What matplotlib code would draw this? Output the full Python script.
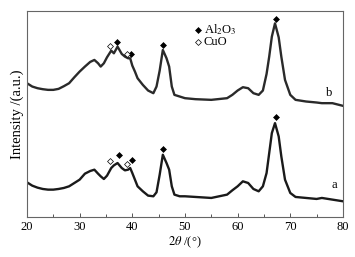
import numpy as np
import matplotlib.pyplot as plt

plt.rcParams['font.family'] = ['Liberation Serif', 'DejaVu Serif']
plt.rcParams['mathtext.fontset'] = 'stix'

# 2theta positions (deg) and intensities (arbitrary units)
two_theta = [20, 21, 22, 23, 24, 25, 26, 27, 28, 29, 30, 31, 32, 32.8, 33.5, 34, 34.6, 35.2,
             36, 36.5, 37.2, 38, 38.6, 39.2, 39.6, 40, 40.5, 41, 42, 43, 44, 44.6, 45.2, 45.8,
             46.5, 47, 47.5, 48, 49, 50, 52, 55, 58, 59, 60, 61, 62, 63, 64, 64.8, 65.5, 66,
             66.5, 67.1, 67.8, 68.3, 69, 70, 71, 73, 75, 76, 78, 80]
sample_b = [402, 392, 387, 384, 382, 382, 385, 393, 402, 420, 437, 452, 466, 472, 462, 452, 462, 480,
            500, 492, 512, 490, 482, 477, 477, 455, 437, 417, 397, 380, 372, 392, 440, 502,
            477, 452, 392, 367, 362, 357, 354, 352, 357, 367, 380, 390, 387, 372, 367, 380, 430, 482,
            542, 582, 540, 482, 412, 367, 352, 347, 344, 342, 342, 334]
sample_a = [104, 94, 88, 84, 82, 82, 84, 87, 92, 102, 112, 130, 138, 142, 130, 122, 114, 124,
            147, 155, 162, 147, 140, 142, 147, 132, 112, 92, 77, 64, 62, 74, 127, 187,
            162, 142, 92, 67, 62, 62, 60, 57, 67, 80, 92, 107, 102, 84, 77, 92, 132, 192,
            252, 282, 242, 182, 112, 72, 60, 57, 54, 57, 52, 47]

# phase markers: (2theta, height)
al2o3_b = [(37.1, 527), (39.8, 491), (45.8, 516), (67.2, 594)]
cuo_b = [(35.8, 515), (39.0, 490)]
al2o3_a = [(37.5, 186), (39.9, 170), (45.8, 205), (67.2, 300)]
cuo_a = [(35.8, 168), (39.0, 160)]

fig = plt.figure(figsize=(3.55, 2.57), dpi=100)
ax = fig.add_axes([0.076, 0.156, 0.890, 0.801])

ax.plot(two_theta, sample_b, color='#2a2a2a', lw=1.7, solid_joinstyle='round')
ax.plot(two_theta, sample_a, color='#1a1a1a', lw=1.7, solid_joinstyle='round')

for pts, face in [(al2o3_b, 'black'), (al2o3_a, 'black'), (cuo_b, 'white'), (cuo_a, 'white')]:
    x = [p[0] for p in pts]
    y = [p[1] for p in pts]
    ax.scatter(x, y, marker='D', s=9, facecolor=face, edgecolor='black', linewidths=0.5, zorder=3)

# legend drawn by hand
ax.scatter([52.5], [562], marker='D', s=9, facecolor='black', edgecolor='black', linewidths=0.5)
ax.scatter([52.5], [527], marker='D', s=9, facecolor='white', edgecolor='black', linewidths=0.5)
ax.text(53.6, 562, 'Al$_2$O$_3$', fontsize=9, va='center', ha='left')
ax.text(53.6, 525, 'CuO', fontsize=9, va='center', ha='left')

ax.text(77.3, 372, 'b', fontsize=9, ha='center', va='center')
ax.text(78.3, 97, 'a', fontsize=9, ha='center', va='center')

ax.set_xlim(20, 80)
ax.set_ylim(0, 619)
ax.set_xticks(range(20, 81, 10))
ax.set_xticks(range(25, 80, 10), minor=True)
ax.set_yticks([])
ax.tick_params(axis='x', direction='in', length=3, width=0.7, labelsize=9, pad=3, color='#555555')
ax.tick_params(axis='x', which='minor', direction='in', length=2, width=0.7, color='#555555')
for s in ax.spines.values():
    s.set_color('#666666')
    s.set_linewidth(0.8)

ax.set_xlabel(r'$2\theta$ /(°)', fontsize=9, labelpad=1)
ax.set_ylabel('Intensity /(a.u.)', fontsize=10.5, labelpad=2)

fig.savefig('out.png', dpi=100)
